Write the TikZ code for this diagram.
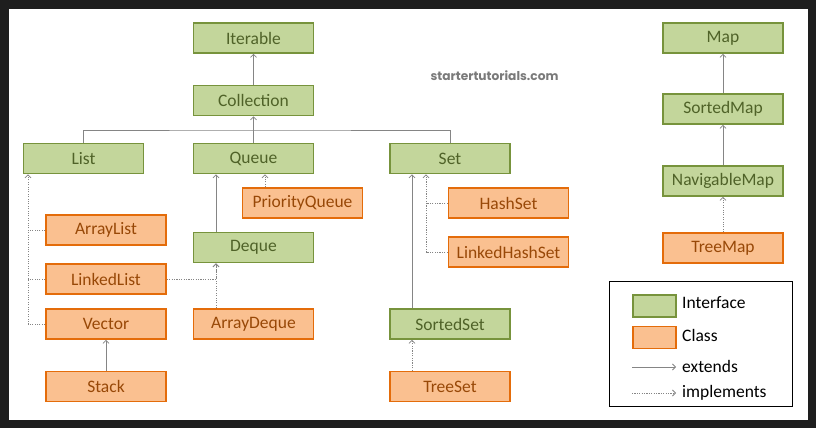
\documentclass[tikz,border=0pt]{standalone}
\usepackage{fontspec}
\setmainfont{Carlito}
\newfontfamily\wmfont{Poppins}
\usetikzlibrary{arrows.meta}
\definecolor{ifcfill}{HTML}{C3D69B}
\definecolor{ifcborder}{HTML}{77933C}
\definecolor{ifctext}{HTML}{4F6228}
\definecolor{clsfill}{HTML}{FAC090}
\definecolor{clsborder}{HTML}{E46C0A}
\definecolor{clstext}{HTML}{984807}
\definecolor{linegray}{HTML}{858585}
\definecolor{framedark}{HTML}{1E1E1E}
\definecolor{wmgray}{HTML}{7A7A7A}
\begin{document}
\begin{tikzpicture}[x=1pt,y=-1pt,
  box/.style={line width=1.6pt, minimum width=120pt, minimum height=30pt, inner sep=0pt,
    font=\fontsize{17.5}{20}\selectfont},
  ifc/.style={box, draw=ifcborder, fill=ifcfill, text=ifctext},
  cls/.style={box, draw=clsborder, fill=clsfill, text=clstext},
  ln/.style={draw=linegray, line width=1pt},
  dl/.style={ln, dash pattern=on 1.1pt off 1.3pt},
  tip/.style={-{Straight Barb[length=3pt,width=6pt,line width=0.8pt]}},
  ext/.style={ln, tip},
  impl/.style={dl, tip},
  lgtext/.style={anchor=west, inner sep=0pt, font=\fontsize{17.5}{20}\selectfont},
  swatch/.style={line width=1.6pt, minimum width=43pt, minimum height=22pt, inner sep=0pt}
]
\useasboundingbox (0,0) rectangle (816,428);
\fill[framedark] (0,0) rectangle (816,428);
\fill[white] (9,9) rectangle (808,420);

% watermark
\node[text=wmgray, font=\wmfont\bfseries\fontsize{12.2}{14}\selectfont] (wm) at (494.5,76) {startertutorials.com};

% nodes
\node[ifc] (Iterable) at (253.5,38) {Iterable};
\node[ifc] (Collection) at (253.5,100.5) {Collection};
\node[ifc] (List) at (83.5,158.5) {List};
\node[ifc] (Queue) at (253.5,158.5) {Queue};
\node[ifc] (Set) at (450,158.5) {Set};
\node[cls] (PriorityQueue) at (302.5,203) {PriorityQueue};
\node[cls] (ArrayList) at (106,230) {ArrayList};
\node[ifc] (Deque) at (253.5,247.5) {Deque};
\node[cls] (LinkedList) at (106,279) {LinkedList};
\node[cls] (Vector) at (106,324) {Vector};
\node[cls] (ArrayDeque) at (253.5,324) {ArrayDeque};
\node[cls] (Stack) at (106,386.5) {Stack};
\node[cls] (HashSet) at (508.5,203) {HashSet};
\node[cls] (LinkedHashSet) at (508.5,252) {LinkedHashSet};
\node[ifc] (SortedSet) at (450,324) {SortedSet};
\node[cls] (TreeSet) at (450,386.5) {TreeSet};
\node[ifc] (Map) at (723,38) {Map};
\node[ifc] (SortedMap) at (723,109) {SortedMap};
\node[ifc] (NavigableMap) at (723,181) {NavigableMap};
\node[cls] (TreeMap) at (723,248) {TreeMap};

% connectors
\draw[ext] (Collection) -- (Iterable);
\coordinate (bus) at (253.5,130);
\draw[ln] (List.north) |- (bus) -| (Set.north);
\draw[ext] (Queue.north) -- (Collection.south);
\draw[ext] ([xshift=-37.5pt]Deque.north) -- ([xshift=-37.5pt]Queue.south);
\draw[impl] ([xshift=-37.5pt]PriorityQueue.north) -- ([xshift=11.5pt]Queue.south);
\draw[impl] (Vector.west) -| ([xshift=-55.5pt]List.south);
\draw[dl] (ArrayList.west) -- ++(-17,0);
\draw[dl] (LinkedList.west) -- ++(-17,0);
\draw[impl] (LinkedList.east) -| ([xshift=-37.5pt]Deque.south);
\draw[impl] ([xshift=-37.5pt]ArrayDeque.north) -- ([xshift=-37.5pt]Deque.south);
\draw[ext] (Stack) -- (Vector);
\draw[ext] ([xshift=-38pt]SortedSet.north) -- ([xshift=-38pt]Set.south);
\draw[impl] (LinkedHashSet.west) -| ([xshift=-24pt]Set.south);
\draw[dl] (HashSet.west) -- ++(-22,0);
\draw[impl] ([xshift=-38pt]TreeSet.north) -- ([xshift=-38pt]SortedSet.south);
\draw[ext] (SortedMap) -- (Map);
\draw[ext] (NavigableMap) -- (SortedMap);
\draw[impl] (TreeMap) -- (NavigableMap);

% legend
\node[draw=black, line width=1.5pt, minimum width=183pt, minimum height=125pt, inner sep=0pt] (legend) at (701,344) {};
\node[swatch, draw=ifcborder, fill=ifcfill] (swI) at (654.5,306) {};
\node[swatch, draw=clsborder, fill=clsfill] (swC) at (654.5,337.5) {};
\node[lgtext] (tI) at (682,303) {Interface};
\node[lgtext] (tC) at (682,335) {Class};
\coordinate (e1) at (632,367);
\coordinate (e2) at (676,367);
\coordinate (i1) at (632,393);
\coordinate (i2) at (676,393);
\draw[ext] (e1) -- (e2);
\draw[impl] (i1) -- (i2);
\node[lgtext] (tE) at (682,366) {extends};
\node[lgtext] (tM) at (682,393) {implements};
\end{tikzpicture}
\end{document}
